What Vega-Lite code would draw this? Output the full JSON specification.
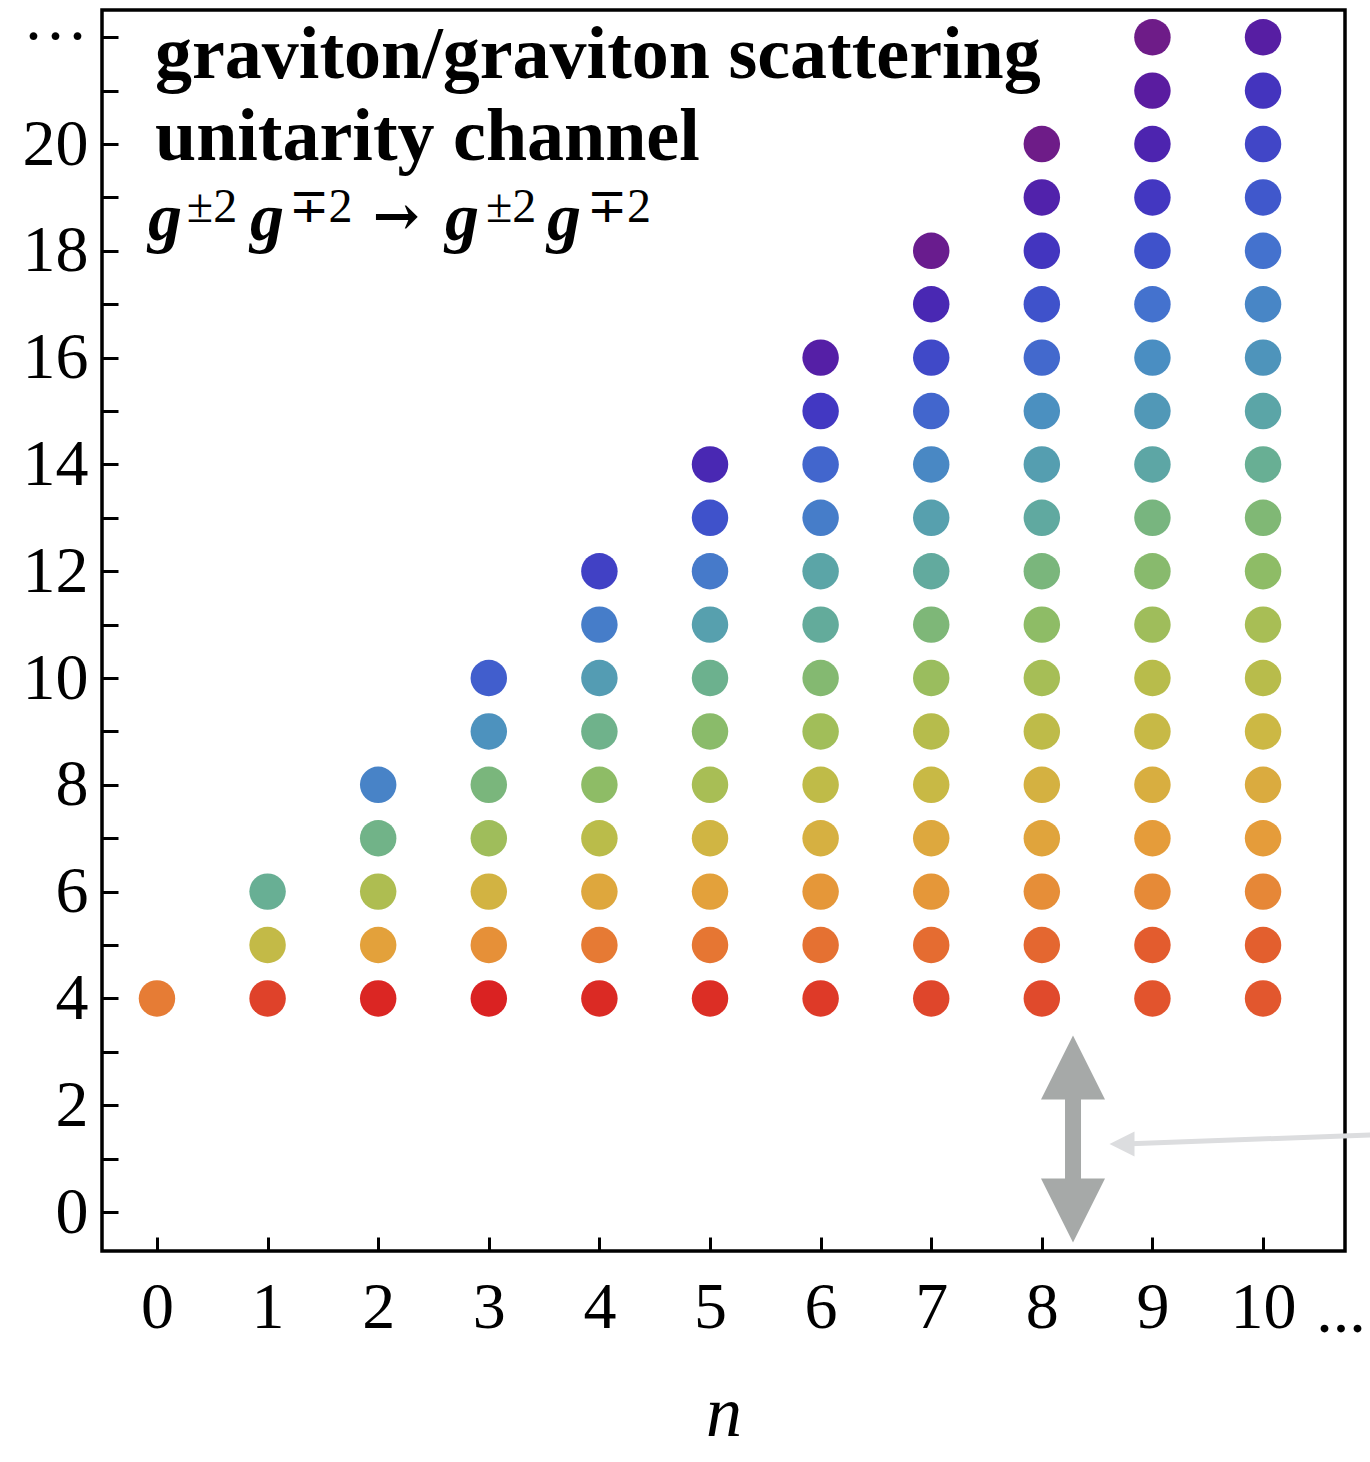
{
  "$schema": "https://vega.github.io/schema/vega-lite/v6.json",
  "width": 1243,
  "height": 1241,
  "autosize": "none",
  "padding": {"left": 102, "top": 10, "right": 25, "bottom": 211},
  "background": "white",
  "config": {
    "font": "Liberation Serif",
    "view": {"stroke": "black", "strokeWidth": 3.5},
    "axis": {"grid": false, "domain": false, "tickColor": "black", "tickWidth": 3, "labelColor": "black", "labelFont": "Liberation Serif", "labelFontSize": 66, "titleColor": "black"}
  },
  "datasets": {
    "pts": [
      {"x": 0, "y": 4, "t": 0.15},
      {"x": 1, "y": 4, "t": 0.04}, {"x": 1, "y": 5, "t": 0.355}, {"x": 1, "y": 6, "t": 0.57},
      {"x": 2, "y": 4, "t": 0.005}, {"x": 2, "y": 5, "t": 0.235}, {"x": 2, "y": 6, "t": 0.41}, {"x": 2, "y": 7, "t": 0.55}, {"x": 2, "y": 8, "t": 0.69},
      {"x": 3, "y": 4, "t": 0.0}, {"x": 3, "y": 5, "t": 0.195}, {"x": 3, "y": 6, "t": 0.305}, {"x": 3, "y": 7, "t": 0.445}, {"x": 3, "y": 8, "t": 0.53}, {"x": 3, "y": 9, "t": 0.66}, {"x": 3, "y": 10, "t": 0.755},
      {"x": 4, "y": 4, "t": 0.01}, {"x": 4, "y": 5, "t": 0.145}, {"x": 4, "y": 6, "t": 0.255}, {"x": 4, "y": 7, "t": 0.38}, {"x": 4, "y": 8, "t": 0.48}, {"x": 4, "y": 9, "t": 0.555}, {"x": 4, "y": 10, "t": 0.635}, {"x": 4, "y": 11, "t": 0.70}, {"x": 4, "y": 12, "t": 0.805},
      {"x": 5, "y": 4, "t": 0.015}, {"x": 5, "y": 5, "t": 0.135}, {"x": 5, "y": 6, "t": 0.235}, {"x": 5, "y": 7, "t": 0.315}, {"x": 5, "y": 8, "t": 0.425}, {"x": 5, "y": 9, "t": 0.49}, {"x": 5, "y": 10, "t": 0.56}, {"x": 5, "y": 11, "t": 0.625}, {"x": 5, "y": 12, "t": 0.705}, {"x": 5, "y": 13, "t": 0.775}, {"x": 5, "y": 14, "t": 0.875},
      {"x": 6, "y": 4, "t": 0.03}, {"x": 6, "y": 5, "t": 0.125}, {"x": 6, "y": 6, "t": 0.21}, {"x": 6, "y": 7, "t": 0.29}, {"x": 6, "y": 8, "t": 0.365}, {"x": 6, "y": 9, "t": 0.44}, {"x": 6, "y": 10, "t": 0.505}, {"x": 6, "y": 11, "t": 0.585}, {"x": 6, "y": 12, "t": 0.61}, {"x": 6, "y": 13, "t": 0.70}, {"x": 6, "y": 14, "t": 0.74}, {"x": 6, "y": 15, "t": 0.82}, {"x": 6, "y": 16, "t": 0.92},
      {"x": 7, "y": 4, "t": 0.045}, {"x": 7, "y": 5, "t": 0.115}, {"x": 7, "y": 6, "t": 0.21}, {"x": 7, "y": 7, "t": 0.26}, {"x": 7, "y": 8, "t": 0.34}, {"x": 7, "y": 9, "t": 0.39}, {"x": 7, "y": 10, "t": 0.455}, {"x": 7, "y": 11, "t": 0.52}, {"x": 7, "y": 12, "t": 0.59}, {"x": 7, "y": 13, "t": 0.625}, {"x": 7, "y": 14, "t": 0.68}, {"x": 7, "y": 15, "t": 0.74}, {"x": 7, "y": 16, "t": 0.79}, {"x": 7, "y": 17, "t": 0.875}, {"x": 7, "y": 18, "t": 0.985},
      {"x": 8, "y": 4, "t": 0.05}, {"x": 8, "y": 5, "t": 0.105}, {"x": 8, "y": 6, "t": 0.19}, {"x": 8, "y": 7, "t": 0.245}, {"x": 8, "y": 8, "t": 0.295}, {"x": 8, "y": 9, "t": 0.37}, {"x": 8, "y": 10, "t": 0.43}, {"x": 8, "y": 11, "t": 0.48}, {"x": 8, "y": 12, "t": 0.53}, {"x": 8, "y": 13, "t": 0.595}, {"x": 8, "y": 14, "t": 0.63}, {"x": 8, "y": 15, "t": 0.665}, {"x": 8, "y": 16, "t": 0.735}, {"x": 8, "y": 17, "t": 0.775}, {"x": 8, "y": 18, "t": 0.83}, {"x": 8, "y": 19, "t": 0.905}, {"x": 8, "y": 20, "t": 1.0},
      {"x": 9, "y": 4, "t": 0.07}, {"x": 9, "y": 5, "t": 0.085}, {"x": 9, "y": 6, "t": 0.18}, {"x": 9, "y": 7, "t": 0.22}, {"x": 9, "y": 8, "t": 0.28}, {"x": 9, "y": 9, "t": 0.345}, {"x": 9, "y": 10, "t": 0.385}, {"x": 9, "y": 11, "t": 0.445}, {"x": 9, "y": 12, "t": 0.495}, {"x": 9, "y": 13, "t": 0.535}, {"x": 9, "y": 14, "t": 0.605}, {"x": 9, "y": 15, "t": 0.645}, {"x": 9, "y": 16, "t": 0.67}, {"x": 9, "y": 17, "t": 0.72}, {"x": 9, "y": 18, "t": 0.775}, {"x": 9, "y": 19, "t": 0.825}, {"x": 9, "y": 20, "t": 0.89}, {"x": 9, "y": 21, "t": 0.94}, {"x": 9, "y": 22, "t": 1.0},
      {"x": 10, "y": 4, "t": 0.075}, {"x": 10, "y": 5, "t": 0.09}, {"x": 10, "y": 6, "t": 0.175}, {"x": 10, "y": 7, "t": 0.22}, {"x": 10, "y": 8, "t": 0.27}, {"x": 10, "y": 9, "t": 0.33}, {"x": 10, "y": 10, "t": 0.385}, {"x": 10, "y": 11, "t": 0.425}, {"x": 10, "y": 12, "t": 0.48}, {"x": 10, "y": 13, "t": 0.515}, {"x": 10, "y": 14, "t": 0.57}, {"x": 10, "y": 15, "t": 0.61}, {"x": 10, "y": 16, "t": 0.655}, {"x": 10, "y": 17, "t": 0.685}, {"x": 10, "y": 18, "t": 0.72}, {"x": 10, "y": 19, "t": 0.765}, {"x": 10, "y": 20, "t": 0.795}, {"x": 10, "y": 21, "t": 0.835}, {"x": 10, "y": 22, "t": 0.93}
    ],
    "shaft": [{"x": 8.282, "y": 0.506, "y2": 2.228}],
    "heads": [{"x": 8.282, "y": 2.706, "dir": "up"}, {"x": 8.282, "y": 0.028, "dir": "down"}],
    "ptr": [{"x": 8.743, "y": 1.273}, {"x": 10.968, "y": 1.442}],
    "ptrhead": [{"x": 8.725, "y": 1.273}],
    "ann": [
      {"x": -0.018, "y": 21.24, "text": "graviton/graviton scattering", "part": "head"},
      {"x": -0.018, "y": 19.7, "text": "unitarity channel", "part": "head"},
      {"x": -0.081, "y": 18.2, "text": "g", "part": "g"},
      {"x": 0.27, "y": 18.54, "text": "±2", "part": "sup"},
      {"x": 0.841, "y": 18.2, "text": "g", "part": "g"},
      {"x": 1.19, "y": 18.54, "text": "∓2", "part": "sup"},
      {"x": 1.95, "y": 18.3, "text": "→", "part": "arrow"},
      {"x": 2.604, "y": 18.2, "text": "g", "part": "g"},
      {"x": 2.974, "y": 18.54, "text": "±2", "part": "sup"},
      {"x": 3.526, "y": 18.2, "text": "g", "part": "g"},
      {"x": 3.887, "y": 18.54, "text": "∓2", "part": "sup"},
      {"x": 10.48, "y": -2.247, "text": "...", "part": "dots"}
    ]
  },
  "encoding": {
    "x": {
      "field": "x", "type": "quantitative",
      "scale": {"domain": [-0.497, 10.741], "nice": false, "zero": false},
      "axis": {"values": [0,1,2,3,4,5,6,7,8,9,10], "tickSize": -14, "labelPadding": 38, "labelFlush": false, "labelOverlap": false,
        "title": "n", "titleFont": "Liberation Serif", "titleFontStyle": "italic", "titleFontWeight": "normal", "titleFontSize": 72, "titlePadding": 38}
    },
    "y": {
      "field": "y", "type": "quantitative",
      "scale": {"domain": [-0.73, 22.51], "nice": false, "zero": false},
      "axis": {"values": [0,1,2,3,4,5,6,7,8,9,10,11,12,13,14,15,16,17,18,19,20,21,22], "tickSize": -16, "labelPadding": 30, "labelFlush": false, "labelOverlap": false,
        "labelExpr": "datum.value == 22 ? '···' : (datum.value % 2 == 0 ? datum.label : '')", "title": null}
    }
  },
  "layer": [
    {
      "data": {"name": "pts"},
      "mark": {"type": "point", "shape": "circle", "filled": true, "size": 1330, "opacity": 1},
      "encoding": {
        "color": {"field": "t", "type": "quantitative", "legend": null,
          "scale": {"domain": [0, 0.05, 0.10, 0.14, 0.19, 0.23, 0.28, 0.33, 0.38, 0.43, 0.48, 0.53, 0.57, 0.62, 0.67, 0.72, 0.77, 0.82, 0.88, 0.94, 1.0],
            "range": ["#DA2222","#E04A2C","#E4642F","#E67834","#E68E38","#E4A03A","#D8AE40","#CCB844","#BABC4A","#A6BE56","#8EBC66","#7AB67C","#68AF94","#58A2AC","#4A8EC2","#4472CE","#3F55CC","#4238C2","#4A26B2","#5A1CA0","#6E1C88"],
            "interpolate": "rgb"}}
      }
    },
    {
      "data": {"name": "shaft"},
      "mark": {"type": "rule", "color": "#A6A9A8", "strokeWidth": 16},
      "encoding": {"y2": {"field": "y2"}}
    },
    {
      "data": {"name": "heads"},
      "transform": [{"filter": "datum.dir == 'up'"}],
      "mark": {"type": "point", "shape": "M0,-1L1,1L-1,1Z", "filled": true, "size": 4096, "color": "#A6A9A8", "opacity": 1}
    },
    {
      "data": {"name": "heads"},
      "transform": [{"filter": "datum.dir == 'down'"}],
      "mark": {"type": "point", "shape": "M0,1L1,-1L-1,-1Z", "filled": true, "size": 4096, "color": "#A6A9A8", "opacity": 1}
    },
    {
      "data": {"name": "ptr"},
      "mark": {"type": "line", "color": "#DCDDDF", "strokeWidth": 5}
    },
    {
      "data": {"name": "ptrhead"},
      "mark": {"type": "point", "shape": "M-1,0L1,-1L1,1Z", "filled": true, "size": 625, "color": "#DCDDDF", "opacity": 1}
    },
    {
      "data": {"name": "ann"},
      "transform": [{"filter": "datum.part == 'head'"}],
      "mark": {"type": "text", "align": "left", "baseline": "alphabetic", "font": "Liberation Serif", "fontWeight": "bold", "fontSize": 74, "color": "black"},
      "encoding": {"text": {"field": "text"}}
    },
    {
      "data": {"name": "ann"},
      "transform": [{"filter": "datum.part == 'g'"}],
      "mark": {"type": "text", "align": "left", "baseline": "alphabetic", "font": "Liberation Serif", "fontWeight": "bold", "fontStyle": "italic", "fontSize": 68, "color": "black"},
      "encoding": {"text": {"field": "text"}}
    },
    {
      "data": {"name": "ann"},
      "transform": [{"filter": "datum.part == 'sup'"}],
      "mark": {"type": "text", "align": "left", "baseline": "alphabetic", "font": "Liberation Serif", "fontSize": 48, "color": "black"},
      "encoding": {"text": {"field": "text"}}
    },
    {
      "data": {"name": "ann"},
      "transform": [{"filter": "datum.part == 'arrow'"}],
      "mark": {"type": "text", "align": "left", "baseline": "alphabetic", "font": "DejaVu Serif", "fontWeight": "bold", "fontSize": 56, "color": "black"},
      "encoding": {"text": {"field": "text"}}
    },
    {
      "data": {"name": "ann"},
      "transform": [{"filter": "datum.part == 'dots'"}],
      "mark": {"type": "text", "align": "left", "baseline": "alphabetic", "font": "Liberation Serif", "fontSize": 66, "color": "black"},
      "encoding": {"text": {"field": "text"}}
    }
  ]
}
